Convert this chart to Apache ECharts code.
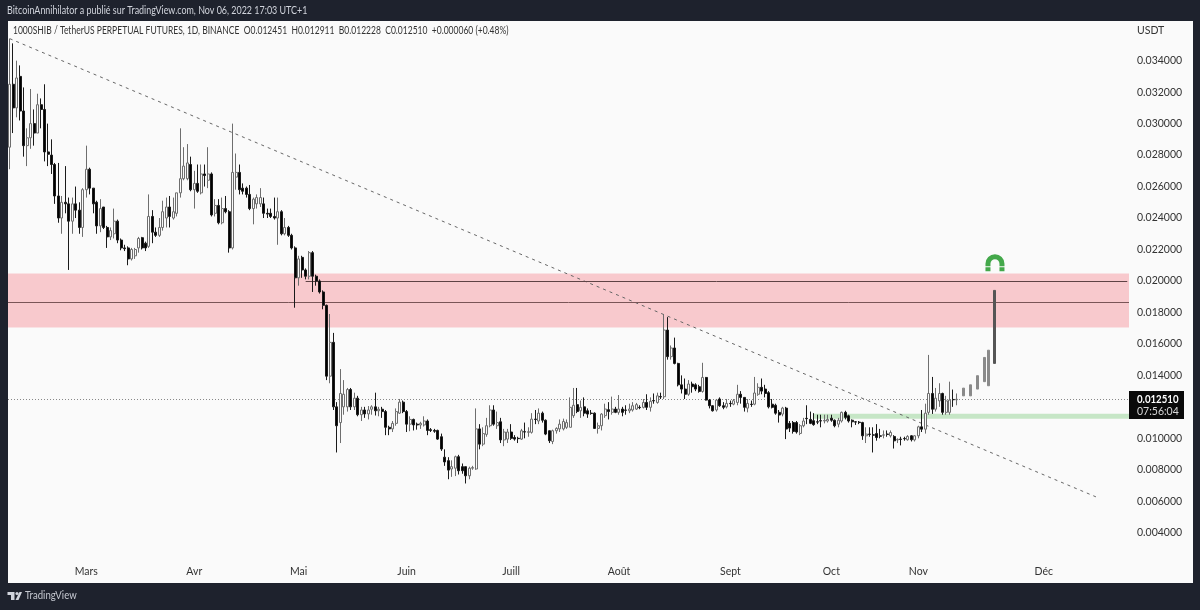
<!DOCTYPE html>
<html>
<head>
<meta charset="utf-8">
<style>html,body{margin:0;padding:0;background:#1e222d}#chart{width:1200px;height:610px}</style>
<script src="https://cdn.jsdelivr.net/npm/echarts@6/dist/echarts.min.js"></script>
</head>
<body>
<div id="chart"></div>
<script>
// prices are in thousandths of USDT, the axis formatter puts them back
const opens = [
  28.5,32.5,31,33,30.8,28.6,29.1,30,29.4,31.2,30.9,28.2,28,27.4,25.4,24,25,24.9,23.8,24.9,
  24.5,23.4,25.8,27.1,25.9,25,23.5,24.7,23.4,22.8,23,23.8,22.6,22.1,22.1,21.4,21.6,22.1,22.75,22.4,
  22.2,24.1,23.1,22.9,23.4,24,24.7,24,24.3,25.6,26.5,26.5,27.4,25.8,26.2,25.6,26.8,26.4,26.8,24.3,
  24.8,23.7,24.6,24.4,22.1,26.6,26.9,25.9,25.9,25.5,24.6,24.9,24.9,24.9,24.3,24.3,24.1,24,24.4,23,
  23.4,22.9,22.1,20.2,21.5,20.7,20.3,21.8,20.3,20,19.3,18.45,13.95,16.1,12,11,12,12,13.1,12,
  12.55,11.5,11.8,11.55,11.85,12,11.75,11.85,11.7,10.7,10.6,10.95,11.6,12.3,11.7,10.9,11.2,10.9,10.85,10.85,
  11.1,10.55,10.5,10.5,10.1,8.8,8.58,8.05,8.1,8.83,8.2,8.2,7.62,8.1,8.05,10.6,9.63,10.25,10.8,11.8,
  10.8,11.05,9.9,9.95,10.4,10.05,10,9.95,10.42,10.38,10.38,11.22,11.1,11.6,11.15,10.48,9.8,10.48,10.6,10.6,
  10.7,10.7,11.44,12.14,11.75,12,11.75,11.6,11.6,10.63,10.8,11.44,11.82,11.65,11.86,11.65,11.86,11.8,11.75,11.8,
  11.86,11.97,11.97,12.28,11.97,12.4,12.28,12.65,12.64,16.88,15.19,15.74,14.76,13.4,13.13,12.8,13.45,13.4,13.28,12.98,
  13.87,12.43,12.07,11.8,12.5,12.07,12,12.22,12.17,12.28,12.8,12.6,11.92,12.17,12.17,12.8,13.24,13.13,12.9,12.17,
  12.1,11.65,11.54,11.92,10.95,11,11,10.31,10.8,11.27,11.2,11.12,11.05,11.12,11.1,11.1,11.28,11.15,10.9,11.1,
  11.65,11.43,11.15,11.05,11.03,11,10.16,10.27,10.22,10.3,10.16,10.2,10.27,10.16,10.12,9.9,9.95,9.99,9.91,10.16,
  9.9,10.16,10.73,10.58,11.65,12.85,11.85,12.38,12.85,11.65,11.65,12.47,12.45,
  null,12.7,null,12.7,null,13.13,null,13.6,13.34,null,14.76
];
const closes = [
  32.5,31,32.9,30.8,28.6,29.1,30,29.4,31.2,30.9,28.2,28.05,27.4,25.4,24,25,24.9,23.8,24.9,24.5,
  23.4,25.8,27.1,25.9,24.9,23.5,24.6,23.4,22.8,23.2,23.8,22.6,22.1,22.05,21.4,22,22,22.7,22.1,22.1,
  24.1,23.1,22.9,23.4,24.4,24.7,24.1,24.4,25.6,26.5,27.3,27.5,25.8,26.2,25.7,26.8,26.7,26.8,24.2,24.8,
  23.7,24.6,24.4,22.1,26.9,26.9,25.8,25.7,25.5,24.6,25.2,25.3,25.3,24.3,24.25,24.1,24,24.4,23,23.4,
  22.9,22.1,20.2,21.4,20.7,20.3,21.8,20.3,20,19.3,18.45,13.95,16.1,12,10.8,12.85,12.8,13.1,12,12.55,
  11.5,11.8,11.55,11.8,12,11.75,11.85,11.7,10.7,10.6,10.95,11.7,12.3,11.7,10.9,11.2,10.85,10.85,10.95,11.1,
  10.5,10.5,10.45,9.95,9.32,8.5,7.98,8.2,8.83,7.94,7.94,7.62,8.1,8.14,10.6,9.63,10.3,10.8,11.8,10.9,
  11,9.9,10.4,10.4,10,9.95,9.98,10.48,10.4,10.42,11.22,11.2,11.6,11.15,10.27,9.85,10.48,10.63,10.9,11.07,
  11,11.97,12.1,11.7,11.97,11.6,11.54,11.58,10.63,10.8,11.54,11.86,11.7,11.86,11.65,11.86,11.65,11.78,11.86,12.07,
  12.14,11.95,12.28,11.97,12.35,12.38,12.7,12.63,16.88,15.19,15.74,14.76,13.4,13.13,12.8,13.45,13.28,13.13,12.98,13.87,
  12.43,12.07,11.75,12.43,12.07,11.97,12.22,12.2,12.39,12.8,12.6,11.97,12.22,12.15,12.88,13.24,13,12.85,12,11.97,
  11.6,11.48,11.92,10.59,10.65,10.44,10.4,10.8,11.1,11.25,10.95,10.87,11.03,11.1,11.14,11.2,11.15,10.8,11.15,11.65,
  11.33,11.1,11.05,11.03,11,10.16,10.27,10.25,10.2,10.05,10.13,10.22,10.25,10.37,9.84,9.93,9.93,9.97,10.12,9.91,
  10.16,10.73,10.58,11.6,12.85,11.85,12.55,12.85,11.65,12.38,12.43,12.45,12.48,
  null,13.19,null,13.4,null,13.98,null,15.14,15.6,null,19.4
];
const lows = [
  27.1,29.4,30.4,30.2,27.9,27.3,28.4,28.6,29.4,29.7,27.6,27.3,26.8,24.9,23.7,23,24.3,20.7,23,24,
  23,22.8,25.3,25.5,24.3,23,23.1,23.3,22.1,22.6,22.7,22.4,21.95,21.9,21,21.3,21.4,21.8,22,21.9,
  22.1,22.4,22.8,22.8,23.2,23.4,23.4,23.9,24.1,25.3,26.4,26.4,25.7,24.6,25.6,25.5,26,25.9,24.1,24.1,
  23.6,23.6,24.3,21.8,22,25.8,25.5,25.5,25.3,24.5,23.6,24.6,24.7,24,24,24,23.9,22.3,22.9,22.9,
  22.8,22,18.3,19.7,20.2,20.1,20.1,19.3,19.7,19.2,18.2,13.7,13.5,11.8,9.1,9.7,11.5,11.7,11.8,11.8,
  11.4,11.1,11.3,11.2,11.5,11.45,11.4,11.3,10.2,10.2,10.4,10.8,11.55,11.6,10.4,10.45,10.5,10.55,10.6,10.75,
  10.2,10.4,10.35,9.9,9.2,8.25,7.4,7.55,7.6,7.7,7.75,7.13,7.4,8,8,9.3,9.5,10.1,10.7,10.8,
  10.6,9.7,9.5,9.7,9.9,9.85,9.7,9.9,10,10.1,10.3,10.9,10.9,11,10.2,9.7,9.63,10.3,10.4,10.5,
  10.6,10.7,11.3,11.6,11.3,11.4,11.3,11.5,10.6,10.3,10.5,11.3,11.2,11.5,11.6,11.5,11.4,11.5,11.6,11.7,
  11.8,11.85,11.9,11.8,11.7,12.2,12.2,12.5,12.5,15,15,14.7,13.3,12.85,12.5,12.7,12.9,13,12.9,12.9,
  12.4,11.9,11.7,11.7,12,11.85,11.9,12,12.1,12.1,12.2,11.7,11.65,12,12.1,12.7,12.8,12.6,11.9,11.9,
  11.5,11,11.4,9.95,10.4,10.3,10.3,10.2,10.7,10.9,10.9,10.8,10.9,10.7,10.95,11,11.05,10.7,10.7,11,
  11.2,11,10.7,10.85,10.9,9.9,9.7,10.1,9.1,9.85,10,10,10.1,10.05,9.35,9.7,9.55,9.85,9.85,9.8,
  9.8,10,10.4,10.3,11.5,11.55,11.7,12,11.5,11.5,11.5,12,12.1,
  null,12.7,null,12.7,null,13.13,null,13.6,13.34,null,14.76
];
const highs = [
  35.4,35.1,34,33.7,32.3,29.7,32.2,30.9,31.9,31.6,32.5,30,29,27.5,27.5,25.4,27.3,25.3,25.3,26,
  25,25.9,28.6,27.2,25.9,25.1,25.2,24.7,23.5,23.4,24.6,23.9,22.7,22.3,22.2,22.1,22.1,22.8,22.8,22.5,
  25.5,24.5,23.4,24,25.1,25.3,25.4,25.3,25.6,29.7,28.5,28.7,27.9,27,27.4,27.4,27.4,28.5,26.9,25.2,
  25.2,25.3,25.4,24.5,30,28.1,27.4,26.2,26,26.1,25.3,25.5,25.9,25.3,24.6,24.6,25.3,25.3,24.5,24,
  23.5,23,22.2,21.6,21.6,20.8,21.9,21.9,20.4,20.1,19.4,18.5,17.9,16.7,12.3,14.4,13.7,13.2,13.2,12.9,
  12.7,12,12,12.05,12.1,12.9,12,12,11.8,10.8,11.1,11.9,12.5,12.4,11.8,11.4,11.25,11,11.05,11.4,
  11.2,10.65,10.6,10.55,10.3,9.3,8.8,8.6,8.9,8.95,8.4,8.2,8.2,8.25,11.9,10.9,10.7,11.3,12.1,12.1,
  11.7,11.3,10.6,10.6,10.9,10.2,10.1,10.6,11,10.7,11.6,11.8,11.9,11.7,11.2,10.5,10.55,10.7,11.2,11.25,
  11.2,12.6,13.2,13.2,12.4,12.6,11.9,11.8,11.65,11,11.6,12.2,12.3,12.65,12,12.75,12,12.1,12.2,12.3,
  12.25,12.1,12.5,12.8,12.6,12.85,12.9,12.9,17.9,17.7,15.9,16.4,14.8,14,13.8,13.7,13.6,13.5,13.4,14.8,
  13.9,12.5,12.1,12.5,12.6,12.3,12.5,12.4,12.5,13.4,13,12.6,12.5,12.4,13.9,13.5,13.8,13.4,13,12.5,
  12.2,11.8,12,12,11.1,11.1,11.1,10.9,11.3,12.1,11.7,11.6,11.5,11.5,11.5,11.5,11.5,11.2,11.3,11.7,
  11.75,11.5,11.2,11.1,11.1,11.05,10.7,10.7,10.7,10.9,10.6,10.5,10.5,10.5,10.2,10,10.1,10.1,10.2,10.2,
  10.2,10.8,11.8,12.2,15.3,13.9,13.2,13.5,12.9,12.7,13.6,13.1,12.85,
  null,13.19,null,13.4,null,13.98,null,15.14,15.6,null,19.4
];

const slotCount = 322;
const monthLabels = ['Mars','Avr','Mai','Juin','Juill','Août','Sept','Oct','Nov','Déc'];
const monthSlots = [22,53,83,114,144,175,207,236,261,297];
const tickPrices = [34,32,30,28,26,24,22,20,18,16,14,12,10,8,6,4];

const trendSlots = [0,312];
const trendPrices = [35.4,6.28];
const redZone = [17.05,20.48];
const greenZone = [11.24,11.56];
const greenZoneStart = 231;
const upperLevel = 20;
const upperLevelStart = 85;
const lowerLevel = 18.62;
const lastPrice = 12.51;
const magnetSlot = 283;
const magnetPrice = 21.16;
// the last bars have no wicks and read as plain grey strokes
const plainBarsFrom = 273;

const categories = Array.from({length: slotCount}, (_, i) => {
    const m = monthSlots.indexOf(i);
    return m < 0 ? '' : monthLabels[m];
});

const candles = opens.map((o, i) => {
    const value = [o, closes[i], lows[i], highs[i]];
    if (i < plainBarsFrom) return value;
    const grey = i === opens.length - 1 ? '#555' : '#8a8a8a';
    return {value, itemStyle: {color: grey, borderColor: grey}};
});

const uiFont = 'Lato,"Noto Sans",sans-serif';
const frame = '#1e222d';
const panel = '#fafafa';

const magnetPath = 'path://M0 9.5A9.5 9.5 0 0 1 19 9.5L19 12L14 12L14 9.5A4.5 4.5 0 0 0 5 9.5L5 12L0 12Z' +
    'M0 13L5 13L5 17L0 17ZM14 13L19 13L19 17L14 17Z';

const chart = echarts.init(document.getElementById('chart'));

chart.setOption({
    animation: false,
    backgroundColor: frame,
    textStyle: {fontFamily: uiFont},
    grid: {left: 8, right: 71, top: 29.2, bottom: 45.8},
    xAxis: {
        type: 'category',
        data: categories,
        axisLine: {show: false},
        axisTick: {show: false},
        splitLine: {show: false},
        axisLabel: {interval: 0, margin: 2, color: '#333', fontSize: 10.5, hideOverlap: false}
    },
    yAxis: {
        type: 'value',
        position: 'right',
        min: 2,
        max: 36,
        interval: 2,
        axisLine: {show: false},
        axisTick: {show: false},
        splitLine: {show: false},
        axisLabel: {
            margin: 8,
            color: '#333',
            fontSize: 10.5,
            formatter: v => tickPrices.includes(v) ? (v / 1000).toFixed(6) : ''
        }
    },
    graphic: [
        // panel behind the plot
        {type: 'rect', z: -10, shape: {x: 8, y: 21, width: 1185, height: 562}, style: {fill: panel}},
        // header and footer texts, squeezed to the width of the original font
        {type: 'text', z: 100, x: 7, y: 5, scaleX: 0.85,
            style: {text: 'BitcoinAnnihilator a publié sur TradingView.com, Nov 06, 2022 17:03 UTC+1', fill: '#d1d4dc', font: '10.5px ' + uiFont}},
        {type: 'text', z: 100, x: 13, y: 25, scaleX: 0.81,
            style: {text: '1000SHIB / TetherUS PERPETUAL FUTURES, 1D, BINANCE  O0.012451  H0.012911  B0.012228  C0.012510  +0.000060 (+0.48%)', fill: '#333', font: '10.5px ' + uiFont}},
        {type: 'text', z: 100, x: 1137, y: 25, style: {text: 'USDT', fill: '#333', font: '10.5px ' + uiFont}},
        {type: 'text', z: 100, x: 25, y: 590, scaleX: 0.87, style: {text: 'TradingView', fill: '#c5c8d0', font: '11px ' + uiFont}},
        // last price tag
        {type: 'rect', z: 100, shape: {x: 1129, y: 391, width: 55, height: 28}, style: {fill: '#0a0a0a'}},
        {type: 'text', z: 101, x: 1137, y: 394, scaleX: 0.92, style: {text: '0.012510', fill: '#fff', font: 'bold 10.5px ' + uiFont}},
        {type: 'text', z: 101, x: 1137, y: 406, style: {text: '07:56:04', fill: '#d8d8d8', font: '10.5px ' + uiFont}},
        // TradingView logo
        {type: 'polygon', z: 100, shape: {points: [[7.5,592],[14.5,592],[14.5,600],[11,600],[11,595],[7.5,595]]}, style: {fill: '#d1d4dc'}},
        {type: 'circle', z: 100, shape: {cx: 17, cy: 593.5, r: 1.6}, style: {fill: '#d1d4dc'}},
        {type: 'polygon', z: 100, shape: {points: [[19.5,592],[22,592],[18.5,600],[15.5,600]]}, style: {fill: '#d1d4dc'}}
    ],
    series: [
        {
            name: 'zones',
            type: 'line',
            data: [],
            z: 1,
            silent: true,
            markArea: {
                silent: true,
                data: [
                    [{yAxis: redZone[0], itemStyle: {color: '#f8c9cd'}}, {yAxis: redZone[1]}],
                    [{xAxis: greenZoneStart, yAxis: greenZone[0], itemStyle: {color: '#c6e6c6'}}, {yAxis: greenZone[1]}]
                ]
            },
            markLine: {
                silent: true,
                symbol: 'none',
                label: {show: false},
                data: [
                    {yAxis: lowerLevel, lineStyle: {color: '#7a5557', type: 'solid', width: 1}},
                    [{coord: [upperLevelStart, upperLevel], lineStyle: {color: '#5f4345', type: 'solid', width: 1}},
                     {coord: [slotCount - 1, upperLevel]}],
                    {yAxis: lastPrice, lineStyle: {color: '#888', type: [1, 2], width: 1}}
                ]
            }
        },
        {
            name: 'trend',
            type: 'line',
            z: 3,
            silent: true,
            symbol: 'none',
            data: trendSlots.map((s, i) => [s, trendPrices[i]]),
            lineStyle: {color: '#666', width: 1, type: [3, 4]}
        },
        {
            name: '1000SHIB',
            type: 'candlestick',
            z: 5,
            barWidth: 2.5,
            data: candles,
            itemStyle: {
                color: panel,
                color0: '#000',
                borderColor: '#6e6e6e',
                borderColor0: '#1a1a1a',
                borderWidth: 1
            }
        },
        {
            name: 'magnet',
            type: 'scatter',
            z: 6,
            silent: true,
            symbol: magnetPath,
            symbolSize: [19, 17],
            data: [[magnetSlot, magnetPrice]],
            itemStyle: {color: '#43a84a', opacity: 1}
        }
    ]
});

window.addEventListener('resize', () => chart.resize());
</script>
</body>
</html>
